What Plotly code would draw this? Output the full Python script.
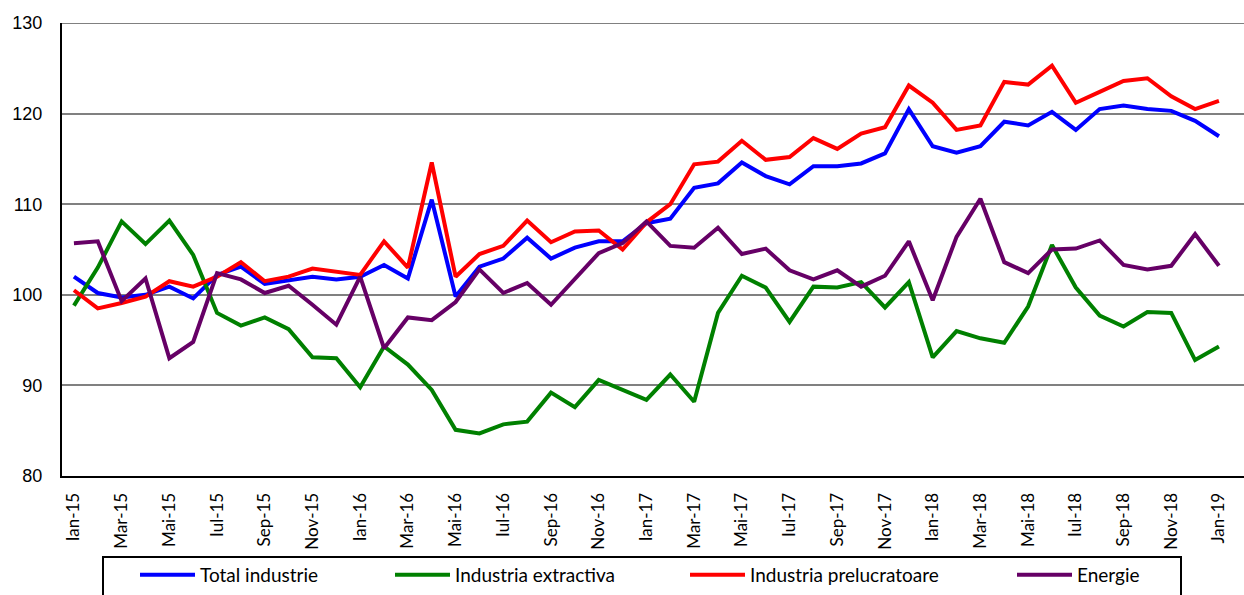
import plotly.graph_objects as go

# ---- data ----
month_names = ["Ian", "Feb", "Mar", "Apr", "Mai", "Iun", "Iul", "Aug", "Sep", "Oct", "Nov", "Dec"]
years = ["15", "16", "17", "18"]
categories = [f"{m}-{y}" for y in years for m in month_names] + ["Jan-19"]

total_industrie = [102.0, 100.2, 99.7, 100.0, 100.9, 99.6, 102.2, 103.1, 101.2, 101.6, 102.0, 101.7,
                   102.0, 103.3, 101.8, 110.5, 99.8, 103.1, 104.0, 106.3, 104.0, 105.2, 105.9, 105.9,
                   107.9, 108.4, 111.8, 112.3, 114.6, 113.1, 112.2, 114.2, 114.2, 114.5, 115.6, 120.5,
                   116.4, 115.7, 116.4, 119.1, 118.7, 120.2, 118.2, 120.5, 120.9, 120.5, 120.3, 119.2, 117.5]
industria_extractiva = [98.8, 103.0, 108.1, 105.6, 108.2, 104.4, 98.0, 96.6, 97.5, 96.2, 93.1, 93.0,
                        89.8, 94.3, 92.3, 89.5, 85.1, 84.7, 85.7, 86.0, 89.2, 87.6, 90.6, 89.5,
                        88.4, 91.2, 88.2, 98.0, 102.1, 100.8, 97.0, 100.9, 100.8, 101.4, 98.6, 101.4,
                        93.1, 96.0, 95.2, 94.7, 98.7, 105.5, 100.8, 97.7, 96.5, 98.1, 98.0, 92.8, 94.3]
industria_prelucratoare = [100.5, 98.5, 99.1, 99.8, 101.5, 100.9, 102.0, 103.6, 101.5, 102.0, 102.9, 102.5,
                           102.2, 105.9, 103.0, 114.6, 102.0, 104.5, 105.4, 108.2, 105.8, 107.0, 107.1, 105.0,
                           108.0, 110.0, 114.4, 114.7, 117.0, 114.9, 115.2, 117.3, 116.1, 117.8, 118.5, 123.1,
                           121.2, 118.2, 118.7, 123.5, 123.2, 125.3, 121.2, 122.4, 123.6, 123.9, 121.9, 120.5, 121.4]
energie = [105.7, 105.9, 99.3, 101.8, 93.0, 94.8, 102.4, 101.7, 100.2, 101.0, 98.9, 96.7,
           102.0, 94.1, 97.5, 97.2, 99.2, 102.8, 100.2, 101.3, 98.9, 101.8, 104.6, 105.7,
           108.1, 105.4, 105.2, 107.4, 104.5, 105.1, 102.7, 101.7, 102.7, 100.9, 102.1, 105.9,
           99.4, 106.4, 110.6, 103.6, 102.4, 105.0, 105.1, 106.0, 103.3, 102.8, 103.2, 106.7, 103.2]

series_names = ["Total industrie", "Industria extractiva", "Industria prelucratoare", "Energie"]
series_values = [total_industrie, industria_extractiva, industria_prelucratoare, energie]
series_colors = ["#0000FF", "#008000", "#FF0000", "#660066"]

tick_labels = categories[::2]
y_ticks = [80, 90, 100, 110, 120, 130]

# ---- layout constants (pixels) ----
W, H = 1244, 595
ML, MR, MT, MB = 62, 0, 23, 119
PW, PH = W - ML - MR, H - MT - MB

def px_x(p):
    return (p - ML) / PW

def px_y(p):
    return (H - MB - p) / PH

legend_keys = ["legend", "legend2", "legend3", "legend4"]
legend_left_px = [135, 390, 685, 1012]

fig = go.Figure()
for name, vals, col, lk in zip(series_names, series_values, series_colors, legend_keys):
    fig.add_trace(go.Scatter(
        x=categories, y=vals, name=name, mode="lines",
        line=dict(color=col, width=4), legend=lk,
    ))

legend_common = dict(
    orientation="h", xanchor="left", yanchor="middle",
    bgcolor="rgba(0,0,0,0)", borderwidth=0,
    font=dict(family="Lato, Carlito, sans-serif", size=19, color="#000000"),
    itemwidth=55,
)
layout_legends = {}
for lk, lx in zip(legend_keys, legend_left_px):
    layout_legends[lk] = dict(legend_common, x=px_x(lx), y=px_y(575))

fig.update_layout(
    width=W, height=H,
    margin=dict(l=ML, r=MR, t=MT, b=MB, pad=0),
    plot_bgcolor="#FFFFFF", paper_bgcolor="#FFFFFF",
    showlegend=True,
    **layout_legends,
    xaxis=dict(
        type="category", range=[-0.5, 49.05],
        tickmode="array", tickvals=tick_labels, ticktext=tick_labels,
        tickangle=-90, ticks="", showgrid=False,
        showline=True, linecolor="#000000", linewidth=2,
        tickfont=dict(family="Lato, Carlito, sans-serif", size=17, color="#000000"),
        ticklabelstandoff=8,
    ),
    yaxis=dict(
        range=[80, 130], tickmode="array", tickvals=y_ticks,
        ticks="", showgrid=True, gridcolor="#808080", gridwidth=1.5,
        showline=True, linecolor="#000000", linewidth=2, zeroline=False,
        tickfont=dict(family="Liberation Sans, Arial, sans-serif", size=18, color="#000000"),
        ticklabelstandoff=14,
    ),
    shapes=[
        dict(
            type="line", xref="paper", yref="y", x0=0, x1=1, y0=130, y1=130,
            line=dict(color="#808080", width=2), layer="below",
        ),
        dict(
            type="rect", xref="paper", yref="paper",
            x0=px_x(103), x1=px_x(1181), y0=px_y(557), y1=px_y(640),
            line=dict(color="#000000", width=2), fillcolor="rgba(0,0,0,0)", layer="above",
        ),
    ],
)

fig.write_html(
    "out.html",
    config={"displayModeBar": False},
    post_script="document.body.style.margin='0';",
)
